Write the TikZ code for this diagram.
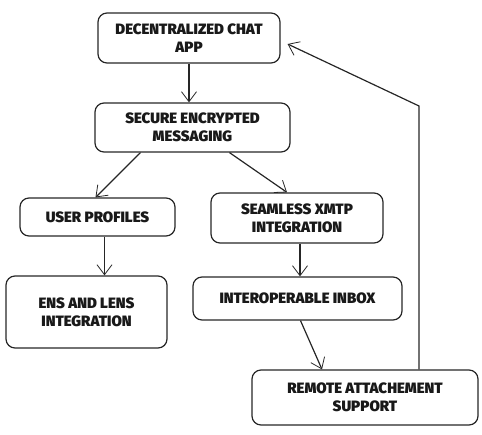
\documentclass[tikz,border=0pt]{standalone}
\usepackage{fontspec}
\setmainfont{Fira Sans}
\newfontfamily\boxfont{Fira Sans Black}
\usetikzlibrary{arrows.meta}

\begin{document}
\begin{tikzpicture}[x=1pt, y=-1pt, >={Straight Barb[length=10pt,width=15pt,line width=0.8pt]}, line width=1.2pt, color=black!85,
    box/.style={draw, rounded corners=9pt, align=center, inner sep=0pt,
        font=\boxfont\fontsize{15}{18}\selectfont, text=black!90}]

    % Khung hình
    \useasboundingbox (0,0) rectangle (482,434);

    % Các khối
    \node[box, minimum width=182pt, minimum height=50pt] (app) at (189,38) {DECENTRALIZED CHAT\\APP};
    \node[box, minimum width=195pt, minimum height=49pt] (secure) at (192.5,127.5) {SECURE ENCRYPTED\\MESSAGING};
    \node[box, minimum width=155pt, minimum height=38pt] (profiles) at (97.5,217) {USER PROFILES};
    \node[box, minimum width=161pt, minimum height=72pt] (ens) at (86.5,312) {ENS AND LENS\\INTEGRATION};
    \node[box, minimum width=172pt, minimum height=50pt] (xmtp) at (297,218) {SEAMLESS XMTP\\INTEGRATION};
    \node[box, minimum width=209pt, minimum height=43pt] (inbox) at (297.5,298.5) {INTEROPERABLE INBOX};
    \node[box, minimum width=226pt, minimum height=55pt] (remote) at (365,397.5) {REMOTE ATTACHEMENT\\SUPPORT};

    % Các mũi tên
    \draw[->] (app.south) -- (app.south |- secure.north);
    \draw[->] ([xshift=-52pt]secure.south) -- ([xshift=-2pt]profiles.north);
    \draw[->] ([xshift=37pt]secure.south) -- ([xshift=-10pt]xmtp.north);
    \draw[->] ([xshift=7pt]profiles.south) -- ([xshift=7pt]profiles.south |- ens.north);
    \draw[->] ([xshift=3pt]xmtp.south) -- ([xshift=3pt]xmtp.south |- inbox.north);
    \draw[->] ([xshift=3pt]inbox.south) -- ([xshift=-43pt]remote.north);

    % Đường quay lại
    \coordinate (bend) at ([xshift=54pt]remote.north |- 0,106);
    \draw[->] ([xshift=54pt]remote.north) -- (bend) -- ([xshift=7pt,yshift=-6pt]app.east);

\end{tikzpicture}
\end{document}
